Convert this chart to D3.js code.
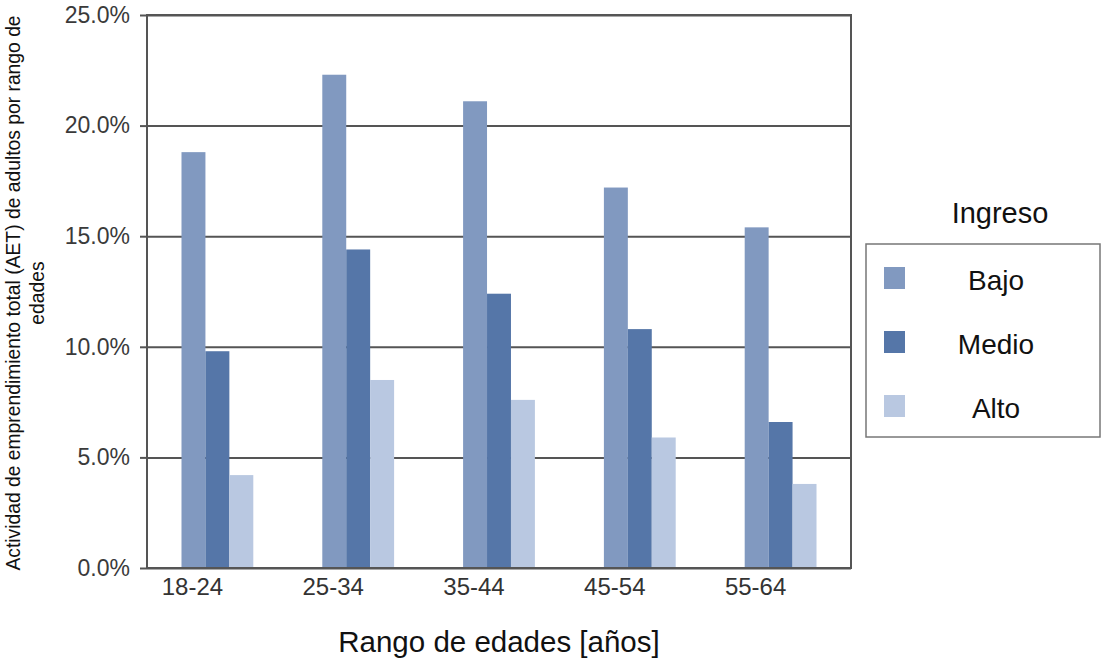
<!DOCTYPE html>
<html>
<head>
<meta charset="utf-8">
<script src="https://cdn.jsdelivr.net/npm/d3@7"></script>
<style>
  html, body { margin: 0; padding: 0; background: #fff; }
  svg { display: block; font-family: "Liberation Sans", Arial, sans-serif; }
</style>
</head>
<body>
<svg id="chart" width="1102" height="658"></svg>
<script>
// Age ranges and entrepreneurship rate (%) by income level
const ageRanges = ["18-24", "25-34", "35-44", "45-54", "55-64"];
const incomeLevels = ["Bajo", "Medio", "Alto"];
const bajo  = [18.8, 22.3, 21.1, 17.2, 15.4];
const medio = [9.8, 14.4, 12.4, 10.8, 6.6];
const alto  = [4.2, 8.5, 7.6, 5.9, 3.8];
const yTicks = [0, 5, 10, 15, 20, 25];
const colors = ["#8199c0", "#5576a8", "#b9c8e1"];

const seriesByLevel = { Bajo: bajo, Medio: medio, Alto: alto };
const rows = ageRanges.map((age, i) => ({
  age,
  values: incomeLevels.map(level => ({ level, value: seriesByLevel[level][i] }))
}));

const svg = d3.select("#chart");
const plot = { left: 147, top: 15, right: 851, bottom: 568 };

const x0 = d3.scaleBand()
  .domain(ageRanges)
  .range([plot.left, plot.right])
  .paddingInner(0.49)
  .paddingOuter(0.245);
const x1 = d3.scaleBand()
  .domain(incomeLevels)
  .range([0, x0.bandwidth()]);
const y = d3.scaleLinear().domain([0, 25]).range([plot.bottom, plot.top]);
const color = d3.scaleOrdinal().domain(incomeLevels).range(colors);

const gridColor = "#555";

// Horizontal gridlines with short outer ticks
const yAxis = d3.axisLeft(y)
  .tickValues(yTicks)
  .tickSize(-(plot.right - plot.left))
  .tickSizeOuter(0)
  .tickPadding(12)
  .tickFormat(d => d.toFixed(1) + "%");
const gy = svg.append("g")
  .attr("transform", `translate(${plot.left},0)`)
  .call(yAxis);
gy.select(".domain").remove();
gy.selectAll(".tick line").attr("stroke", gridColor).attr("stroke-width", 2);
gy.selectAll(".tick").append("line")
  .attr("x1", -7).attr("x2", 0)
  .attr("stroke", gridColor).attr("stroke-width", 2);
gy.selectAll(".tick text")
  .attr("fill", "#3a3a3a")
  .style("font-size", "23px")
  .attr("x", -17);

// Plot frame
svg.append("rect")
  .attr("x", plot.left).attr("y", plot.top)
  .attr("width", plot.right - plot.left)
  .attr("height", plot.bottom - plot.top)
  .attr("fill", "none")
  .attr("stroke", gridColor)
  .attr("stroke-width", 2);

// Grouped bars
const groups = svg.append("g").selectAll("g")
  .data(rows)
  .join("g")
  .attr("transform", d => `translate(${x0(d.age)},0)`);
groups.selectAll("rect")
  .data(d => d.values)
  .join("rect")
  .attr("x", d => x1(d.level))
  .attr("y", d => y(d.value))
  .attr("width", x1.bandwidth())
  .attr("height", d => y(0) - y(d.value))
  .attr("fill", d => color(d.level));

// Bottom line redrawn over the bars
svg.append("line")
  .attr("x1", plot.left).attr("x2", plot.right)
  .attr("y1", plot.bottom).attr("y2", plot.bottom)
  .attr("stroke", gridColor).attr("stroke-width", 2);

// Category axis labels (set slightly left of the group centre)
const xAxis = d3.axisBottom(x0).tickSize(0).tickPadding(10);
const gx = svg.append("g")
  .attr("transform", `translate(-25,${plot.bottom})`)
  .call(xAxis);
gx.select(".domain").remove();
gx.selectAll(".tick text")
  .attr("fill", "#333")
  .style("font-size", "24px");

// Axis titles
svg.append("text")
  .attr("x", 499)
  .attr("y", 652)
  .attr("text-anchor", "middle")
  .attr("fill", "#111")
  .style("font-size", "29.5px")
  .text("Rango de edades [años]");

const yTitle = svg.append("text")
  .attr("transform", "translate(0,293) rotate(-90)")
  .attr("text-anchor", "middle")
  .attr("fill", "#111")
  .style("font-size", "19.3px");
yTitle.append("tspan").attr("x", 0).attr("y", 20)
  .text("Actividad de emprendimiento total (AET) de adultos por rango de");
yTitle.append("tspan").attr("x", 0).attr("y", 44)
  .text("edades");

// Legend
const legend = svg.append("g");
legend.append("text")
  .attr("x", 1000).attr("y", 223)
  .attr("text-anchor", "middle")
  .attr("fill", "#111")
  .style("font-size", "29px")
  .text("Ingreso");
legend.append("rect")
  .attr("x", 866).attr("y", 244)
  .attr("width", 234).attr("height", 193)
  .attr("fill", "#fff")
  .attr("stroke", "#777")
  .attr("stroke-width", 1.5);
const legendY = d3.scalePoint().domain(incomeLevels).range([278, 406]);
const items = legend.selectAll("g.item")
  .data(incomeLevels)
  .join("g")
  .attr("class", "item")
  .attr("transform", d => `translate(0,${legendY(d)})`);
items.append("rect")
  .attr("x", 884).attr("y", -11)
  .attr("width", 21).attr("height", 22)
  .attr("fill", d => color(d));
items.append("text")
  .attr("x", 996).attr("y", 12)
  .attr("text-anchor", "middle")
  .attr("fill", "#111")
  .style("font-size", "28px")
  .text(d => d);
</script>
</body>
</html>
